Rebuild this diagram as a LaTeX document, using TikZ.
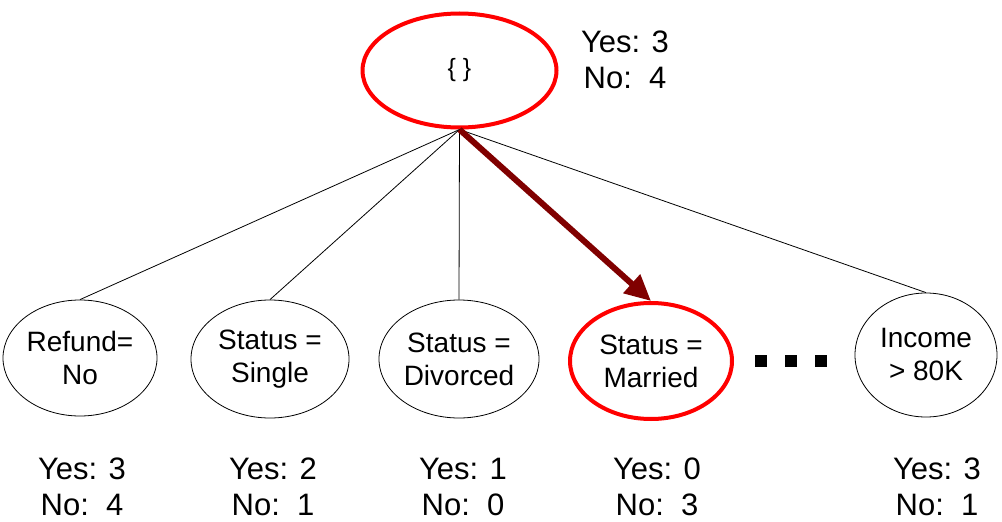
\documentclass[tikz,border=0pt]{standalone}
\usepackage{fontspec}
\setmainfont{Liberation Sans}
\usetikzlibrary{shapes.geometric,arrows.meta}
\definecolor{darkred}{HTML}{800000}
\tikzset{
  cnode/.style={ellipse,draw=black,line width=0.8pt,inner sep=0pt,align=center,
    font=\fontsize{28}{33}\selectfont},
  hnode/.style={cnode,draw=red,line width=4pt},
  count/.style={align=center,font=\fontsize{31}{36}\selectfont,inner sep=0pt},
  edge/.style={draw=black,line width=0.8pt},
  dot/.style={fill=black,minimum size=12pt,inner sep=0pt,rectangle}
}
\begin{document}
\begin{tikzpicture}[x=1pt,y=-1pt]
\useasboundingbox (0,0) rectangle (1002,522);
\node[hnode,minimum width=194pt,minimum height=114pt,font=\fontsize{25}{28}\selectfont] (root) at (459.5,70.5) {\{ \}};
\node[count,anchor=north] (rootc) at (625,31) {Yes: 3\\No:\ \ 4};

\node[cnode,minimum width=154pt,minimum height=116pt] (n1) at (80,358) {Refund=\\No};
\node[cnode,minimum width=158pt,minimum height=118pt] (n2) at (270,359) {Status =\\Single};
\node[cnode,minimum width=160pt,minimum height=118pt] (n3) at (459,359) {Status =\\Divorced};
\node[hnode,minimum width=162pt,minimum height=116pt] (n4) at (651,361) {Status =\\Married};
\node[cnode,minimum width=142pt,minimum height=124pt] (n5) at (926,355) {Income\\> 80K};

\node[dot] (d1) at (761,361) {};
\node[dot] (d2) at (791,361) {};
\node[dot] (d3) at (821,361) {};

\draw[edge] (root.south) -- (n1.north);
\draw[edge] (root.south) -- (n2.north);
\draw[edge] (root.south) -- (n3.north);
\draw[edge] (root.south) -- (n5.north);
\draw[darkred,line width=6pt,-{Triangle[length=26pt,width=24pt]}] (root.south) -- (n4.north);

\node[count,anchor=north] (c1) at (82,458) {Yes: 3\\No:\ \ 4};
\node[count,anchor=north] (c2) at (273,458) {Yes: 2\\No:\ \ 1};
\node[count,anchor=north] (c3) at (463,458) {Yes: 1\\No:\ \ 0};
\node[count,anchor=north] (c4) at (657,458) {Yes: 0\\No:\ \ 3};
\node[count,anchor=north] (c5) at (937,458) {Yes: 3\\No:\ \ 1};
\end{tikzpicture}
\end{document}
